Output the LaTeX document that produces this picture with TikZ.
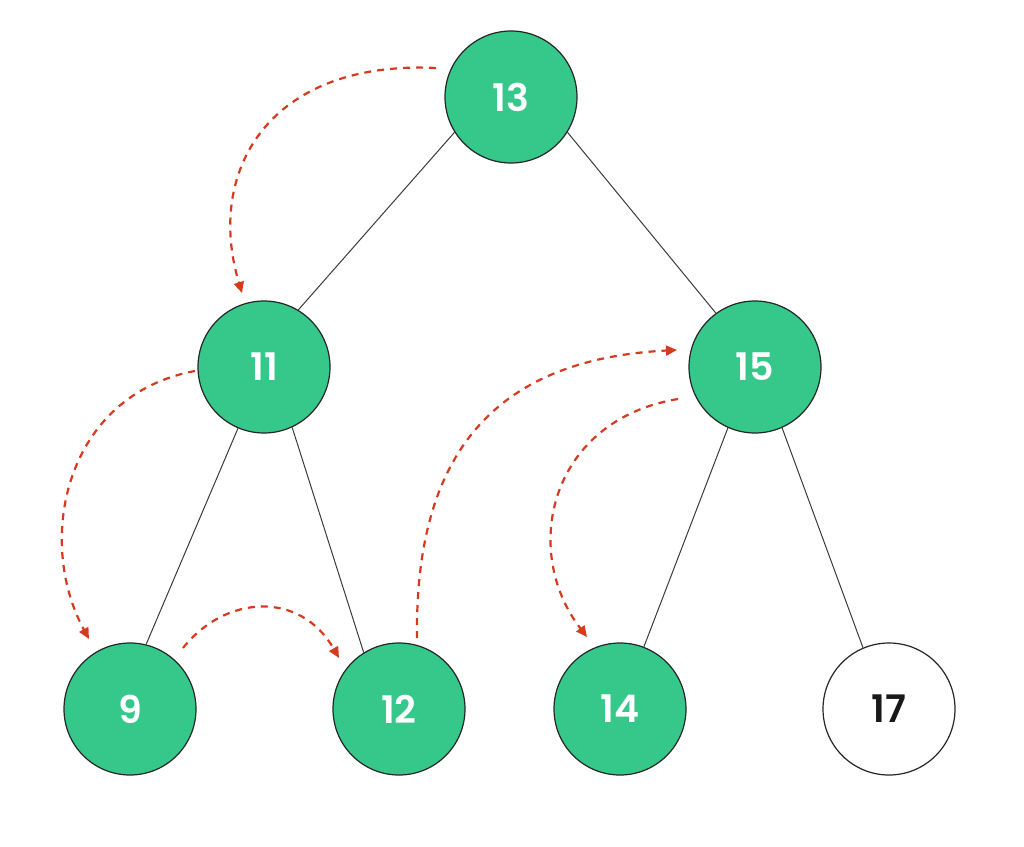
\documentclass[tikz,border=0pt]{standalone}
\usepackage{fontspec}
\setmainfont{Poppins}[BoldFont={Poppins SemiBold}]
\usetikzlibrary{arrows.meta}
\definecolor{nodegreen}{HTML}{35C88A}
\definecolor{dashred}{HTML}{D63A1E}
\definecolor{edgegray}{HTML}{3A3A3A}
\tikzset{
  x=1pt, y=-1pt,
  tnode/.style={circle, draw=black!85, line width=1.2pt, minimum size=132pt, inner sep=0pt,
    font=\fontsize{38}{42}\selectfont\bfseries},
  visited/.style={tnode, fill=nodegreen, text=white},
  unvisited/.style={tnode, fill=white, text=black!90},
  treeedge/.style={draw=edgegray, line width=1pt},
  trav/.style={draw=dashred, line width=2.2pt, dash pattern=on 7pt off 6pt,
    -{Triangle[length=11pt,width=10pt]}},
}
\begin{document}
\begin{tikzpicture}
\useasboundingbox (0,0) rectangle (1024,846);
\node[visited] (n13) at (511,97) {13};
\node[visited] (n11) at (264,367) {11};
\node[visited] (n15) at (755,367) {15};
\node[visited] (n9) at (130,709) {9};
\node[visited] (n12) at (399,709) {12};
\node[visited] (n14) at (620,709) {14};
\node[unvisited] (n17) at (889,709) {17};

\draw[treeedge] (n13.212) -- (n11.59);
\draw[treeedge] (n13.328) -- (n15.126);
\draw[treeedge] (n11.247) -- (n9.76);
\draw[treeedge] (n11.295) -- (n12.122);
\draw[treeedge] (n15.246) -- (n14.69);
\draw[treeedge] (n15.294) -- (n17.113);

\coordinate (a1s) at (436,68);
\coordinate (a1e) at (242,293);
\coordinate (a2s) at (195,371);
\coordinate (a2e) at (89,639);
\coordinate (a3s) at (183,648);
\coordinate (a3e) at (339,658);
\coordinate (a4s) at (417,638);
\coordinate (a4e) at (677,350);
\coordinate (a5s) at (678,399);
\coordinate (a5e) at (587,637);

\draw[trav] (a1s) .. controls (270,60) and (205,170) .. (a1e);
\draw[trav] (a2s) .. controls (65,395) and (35,540) .. (a2e);
\draw[trav] (a3s) .. controls (225,595) and (300,590) .. (a3e);
\draw[trav] (a4s) .. controls (415,470) and (480,360) .. (a4e);
\draw[trav] (a5s) .. controls (550,420) and (520,550) .. (a5e);
\end{tikzpicture}
\end{document}
